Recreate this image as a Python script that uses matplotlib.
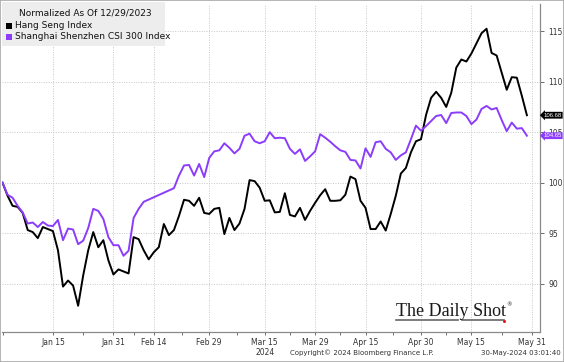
import matplotlib
matplotlib.use('Agg')
import matplotlib.pyplot as plt
import matplotlib.transforms as mtransforms
from matplotlib.patches import Rectangle
from matplotlib.lines import Line2D
import numpy as np
import pandas as pd

# trading days (union of HK / mainland sessions), Dec 29 2023 .. May 31 2024
holidays = ['2024-01-01', '2024-02-12', '2024-02-13', '2024-04-04', '2024-05-01']
days = pd.bdate_range('2023-12-29', '2024-05-31')
days = days[~days.isin(pd.to_datetime(holidays))]

tick_dates = ['2024-01-15', '2024-01-31', '2024-02-14', '2024-02-29', '2024-03-15',
              '2024-03-29', '2024-04-15', '2024-04-30', '2024-05-15', '2024-05-31']
tick_labels = ['Jan 15', 'Jan 31', 'Feb 14', 'Feb 29', 'Mar 15\n2024',
               'Mar 29', 'Apr 15', 'Apr 30', 'May 15', 'May 31']

# normalized to 100 on 12/29/2023, one value per trading day
hang_seng = [100, 98.7, 97.7, 97.6, 97.0, 95.3, 95.1, 94.5, 95.6, 95.4,
             95.2, 93.3, 89.7, 90.3, 89.8, 87.8, 90.8, 93.3, 95.1, 93.6,
             94.3, 92.3, 90.9, 91.4, 91.2, 91.0, 94.6, 94.4, 93.3, 92.4,
             93.1, 93.6, 95.9, 94.8, 95.3, 96.7, 98.3, 98.2, 97.7, 98.5,
             97.0, 96.9, 97.4, 97.5, 94.9, 96.5, 95.3, 95.95, 97.4, 100.25,
             100.15, 99.5, 98.2, 98.25, 97.05, 97.1, 98.95, 96.8, 96.65, 97.5,
             96.3, 97.2, 98.0, 98.75, 99.35, 98.2, 98.2, 98.25, 98.8, 100.6,
             100.35, 98.2, 97.5, 95.4, 95.4, 96.15, 95.25, 96.9, 98.7, 100.9,
             101.45, 103.0, 104.1, 104.3, 106.7, 108.4, 109.0, 108.4, 107.5, 108.9,
             111.4, 112.2, 112.0, 112.8, 113.8, 114.8, 115.25, 112.85, 112.6, 110.9,
             109.2, 110.45, 110.4, 108.6, 106.68]

csi300 = [100, 98.8, 98.5, 97.7, 97.05, 95.95, 96.05, 95.6, 96.1, 95.75,
          95.7, 96.3, 94.3, 95.45, 95.35, 93.9, 94.25, 95.5, 97.4, 97.2,
          96.4, 94.6, 93.8, 93.8, 92.75, 93.25, 96.5, 97.4, 98.1, None,
          None, None, None, None, 99.45, 100.7, 101.7, 101.75, 100.7, 101.85,
          100.55, 102.45, 103.1, 103.2, 103.9, 103.45, 102.9, 103.35, 104.65, 104.85,
          104.1, 103.9, 104.1, 105.0, 104.4, 104.45, 104.4, 103.35, 102.85, 103.3,
          102.15, 102.6, 103.1, 104.8, 104.45, 104.05, 103.6, 103.2, 103.05, 102.25,
          102.2, 101.4, 103.4, 102.55, 104.0, 104.1, 103.35, 103.0, 102.25, 102.7,
          103.0, 104.3, 105.65, 105.15, 105.6, 106.1, 106.6, 106.7, 105.9, 106.9,
          106.95, 106.95, 106.6, 105.8, 106.25, 107.3, 107.6, 107.25, 107.4, 106.2,
          105.1, 105.95, 105.35, 105.4, 104.65]

hs_color = '#000000'
csi_color = '#8b3dfb'

fig = plt.figure(figsize=(5.64, 3.62), dpi=100, facecolor='w')
ax = fig.add_axes([2 / 564, 30 / 362, 538 / 564, 328 / 362])

x = np.arange(len(hang_seng))
ax.plot(x, hang_seng, color=hs_color, lw=1.4, zorder=3)
csi = pd.Series(csi300, dtype=float)
ok = csi.notna().values
ax.plot(x[ok], csi.values[ok], color=csi_color, lw=1.4, zorder=3)

ax.set_xlim(-0.1, 106.6)
ax.set_ylim(85.2, 117.7)

tick_pos = [days.get_loc(pd.Timestamp(d)) for d in tick_dates]
ax.set_xticks(tick_pos)
ax.set_xticklabels(tick_labels, fontsize=5.5, color='#333333', linespacing=1.2)
mids = [0] + [(a + b) / 2 for a, b in zip(tick_pos[:-1], tick_pos[1:])]
ax.set_xticks(mids, minor=True)
ax.tick_params(axis='x', which='both', length=2.5, width=0.6, color='#555555', pad=1.5)

ax.yaxis.tick_right()
ax.set_yticks([90, 95, 100, 105, 110, 115])
ax.set_yticklabels(['90', '95', '100', '105', '110', '115'])
ax.tick_params(axis='y', length=3, width=0.6, color='#555555', labelsize=5.5,
               labelcolor='#333333', pad=3)

ax.grid(True, which='major', color='#c8c8c8', linestyle=(0, (1, 1.5)), lw=0.7)
for s in ['left', 'top']:
    ax.spines[s].set_visible(False)
for s in ['right', 'bottom']:
    ax.spines[s].set_color('#8a8a8a')
    ax.spines[s].set_linewidth(0.9)

# last value tags on the right axis
trans = mtransforms.blended_transform_factory(ax.transAxes, ax.transData)
for val, col in [(hang_seng[-1], hs_color), (csi300[-1], csi_color)]:
    ax.text(1.0065, val, '%.2f' % val, transform=trans, family='Liberation Sans', fontsize=4.3,
            color='white', ha='left', va='center', zorder=5, clip_on=False,
            bbox=dict(boxstyle='larrow,pad=0.15', fc=col, ec='none'))

# legend block
def px(xp, yp):
    return xp / 564, 1 - yp / 362

fig.patches.append(Rectangle(px(2, 46), 163 / 564, 44 / 362, transform=fig.transFigure,
                             fc='#ededed', ec='none', zorder=4))
fig.text(*px(85, 13), 'Normalized As Of 12/29/2023', fontsize=6.5, ha='center', va='center',
         color='#111111', zorder=5)
fig.patches.append(Rectangle(px(6, 28.5), 6 / 564, 6 / 362, transform=fig.transFigure,
                             fc=hs_color, ec='none', zorder=5))
fig.text(*px(15, 25), 'Hang Seng Index', fontsize=6.5, ha='left', va='center', color='#111111', zorder=5)
fig.patches.append(Rectangle(px(6, 40), 6 / 564, 6 / 362, transform=fig.transFigure,
                             fc=csi_color, ec='none', zorder=5))
fig.text(*px(15, 36.5), 'Shanghai Shenzhen CSI 300 Index', fontsize=6.5, ha='left', va='center',
         color='#111111', zorder=5)

# watermark
fig.text(*px(451, 312), 'The Daily Shot', family='Liberation Serif', fontsize=13,
         ha='center', va='center', color='#1a1a1a')
fig.text(*px(509, 305), '\u00ae', family='DejaVu Sans', fontsize=4, ha='center', va='center',
         color='#1a1a1a')
fig.lines.append(Line2D([396 / 564, 458 / 564], [1 - 320 / 362] * 2, transform=fig.transFigure,
                        color='#666666', lw=1.2))
fig.lines.append(Line2D([462 / 564, 504 / 564], [1 - 320 / 362] * 2, transform=fig.transFigure,
                        color='#666666', lw=1.2))
fig.lines.append(Line2D([504.5 / 564], [1 - 320.5 / 362], transform=fig.transFigure,
                        marker='o', ms=2.2, color='#e8141b', mec='none'))

# footer
fig.text(*px(362, 353), 'Copyright\u00a9 2024 Bloomberg Finance L.P.', fontsize=5, ha='center',
         va='center', color='#333333')
fig.text(*px(561, 353), '30-May-2024 03:01:40', fontsize=5, ha='right', va='center', color='#333333')

# outer frame
fig.patches.append(Rectangle((0, 0), 1, 1, transform=fig.transFigure, fill=False,
                             ec='#a8a8a8', lw=1.2, zorder=10))

fig.savefig('out.png', dpi=100, facecolor='w')
